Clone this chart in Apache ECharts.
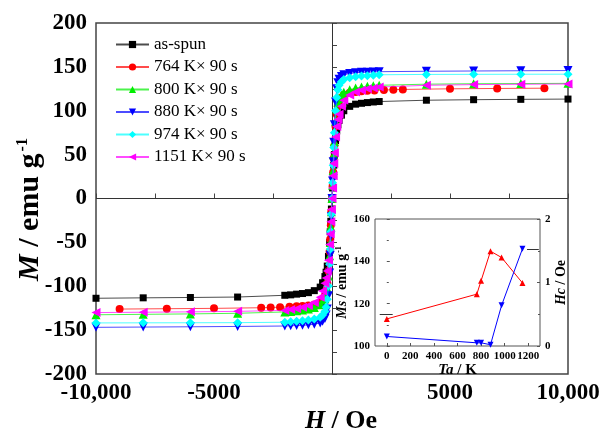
<!DOCTYPE html>
<html><head><meta charset="utf-8">
<script src="https://cdn.jsdelivr.net/npm/echarts@6/dist/echarts.min.js"></script>
<style>html,body{margin:0;padding:0;background:#fff}#c{width:605px;height:429px}</style>
</head><body><div id="c"></div>
<script>
// ---- main chart data ----
const seriesNames = ['as-spun', '764 K\u00d7 90 s', '800 K\u00d7 90 s', '880 K\u00d7 90 s', '974 K\u00d7 90 s', '1151 K\u00d7 90 s'];
const fieldH = [-10000,-8000,-6000,-4000,-2000,-1750,-1500,-1250,-1000,-750,-500,-400,-300,-250,-200,-150,-100,-75,-50,-25,0,25,50,75,100,150,200,250,300,400,500,750,1000,1250,1500,1750,2000,4000,6000,8000,10000];
const fieldHRed = [-9000,-7000,-5000,-3000,-2600,-2200,-1800,-1500,-1250,-1000,-750,-500,-400,-300,-250,-200,-150,-100,-75,-50,-25,0,25,50,75,100,150,200,250,300,400,500,750,1000,1250,1500,1800,2200,2600,3000,5000,7000,9000];
const mAsSpun = [-113.7,-113.2,-112.8,-112.3,-110.3,-109.8,-109.0,-108.3,-107.3,-105.0,-101.0,-96.0,-89.0,-84.0,-77.0,-66.0,-50.0,-38.0,-26.0,-12.0,0,12,26,38,50,66,77,84,89,95,100,105,107.5,108.5,109.3,110.0,110.5,112.0,112.6,113.0,113.3];
const m764 = [-126.0,-125.6,-125.2,-124.5,-124.2,-123.8,-123.4,-122.9,-122.4,-121.8,-120.8,-118.5,-115.5,-110.5,-105.5,-96.5,-82.5,-60.5,-46.5,-30.5,-14.5,0,14,30,46,60,82,96,105,110,115,118,120.5,121.5,122.2,122.7,123.2,123.6,124.0,124.3,125.0,125.4,125.7];
const m800 = [-132.5,-132.0,-131.5,-130.8,-129.3,-128.7,-128.0,-127.2,-126.0,-124.2,-121.2,-118.2,-114.2,-110.2,-102.2,-88.2,-65.2,-50.2,-32.2,-15.2,0,15,32,50,65,88,102,110,114,118,121,124,125.8,127,127.8,128.5,129,130.3,130.8,131,131.2];
const m880 = [-146.8,-146.5,-146.2,-145.8,-145.3,-145.0,-144.8,-144.5,-144.0,-143.2,-141.8,-139.8,-136.8,-132.8,-125.8,-110.8,-84.8,-64.8,-42.8,-20.8,0,20,42,64,84,110,125,132,136,139,141,142.5,143.3,143.8,144,144.2,144.5,145,145.3,145.6,145.8];
const m974 = [-141.8,-141.7,-141.6,-141.5,-141.0,-140.5,-140.0,-139.3,-138.5,-137.3,-135.3,-132.8,-128.8,-123.8,-114.8,-99.8,-74.8,-57.8,-37.8,-17.8,0,18,38,58,75,100,115,124,129,133,135.5,137.5,138.8,139.5,140,140.5,141,141.4,141.5,141.6,141.7];
const m1151 = [-130.0,-129.6,-129.2,-128.6,-127.5,-126.5,-125.5,-124.0,-122.0,-118.5,-112.5,-105.5,-96.5,-90.5,-82.5,-70.5,-52.5,-40.5,-26.5,-12.5,0,12,26,40,52,70,82,90,96,105,112,118,121.5,123.5,125,126,127,129,129.8,130.2,130.5];
const xTickLabels = {'-10000':'-10,000','-5000':'-5000','0':'','5000':'5000','10000':'10,000'};

// ---- inset data ----
const annealT = [0, 764, 800, 880, 974, 1151];
const msValues = [112.8, 124.5, 130.8, 144.8, 141.8, 129.8];
const hcValues = [0.15, 0.05, 0.05, 0.02, 0.64, 1.53];
const insetTicksX = [0, 200, 400, 600, 800, 1000, 1200];
const arrowMs = [[50, 115], [-60, 115]];
const arrowHc = [[1190, 1.53], [1290, 1.53]];

const SERIF = "'Liberation Serif','Times New Roman',serif";
const colors = ['#000000', '#ff0000', '#00ee00', '#0000ff', '#00ffff', '#ff00ff'];
const symbols = ['rect', 'circle', 'triangle', 'triangle', 'diamond', 'triangle'];
const rotates = [0, 0, 0, 180, 0, 90];
const sizes = [7, 8, 9, 9, 9, 9];
const mainData = [
  [fieldH, mAsSpun], [fieldHRed, m764], [fieldH, m800], [fieldH, m880], [fieldH, m974], [fieldH, m1151]
];

const series = mainData.map((d, i) => ({
  name: seriesNames[i], type: 'line', xAxisIndex: 0, yAxisIndex: 0,
  data: d[0].map((h, k) => [h, d[1][k]]),
  symbol: symbols[i], symbolRotate: rotates[i], symbolSize: sizes[i],
  itemStyle: {color: colors[i]},
  lineStyle: {color: colors[i], width: 1, opacity: 0.7},
  z: 3 + i, animation: false
}));
series[0].markLine = {
  silent: true, symbol: ['none', 'none'], label: {show: false},
  lineStyle: {color: '#333', width: 1, type: 'solid'},
  data: [{xAxis: 0}, {yAxis: 0}], z: 1
};
series.push({
  type: 'line', xAxisIndex: 1, yAxisIndex: 1,
  data: annealT.map((t, k) => [t, msValues[k]]),
  symbol: 'triangle', symbolSize: 6, itemStyle: {color: '#ff0000'},
  lineStyle: {color: '#ff0000', width: 1}, animation: false,
  markLine: {silent: true, symbol: ['none', 'arrow'], symbolSize: [0, 6], label: {show: false},
    lineStyle: {color: '#333', width: 1, type: 'solid'},
    data: [[{coord: arrowMs[0]}, {coord: arrowMs[1]}]]}
});
series.push({
  type: 'line', xAxisIndex: 1, yAxisIndex: 2,
  data: annealT.map((t, k) => [t, hcValues[k]]),
  symbol: 'triangle', symbolRotate: 180, symbolSize: 6, itemStyle: {color: '#0000ff'},
  lineStyle: {color: '#0000ff', width: 1}, animation: false,
  markLine: {silent: true, symbol: ['none', 'arrow'], symbolSize: [0, 6], label: {show: false},
    lineStyle: {color: '#333', width: 1, type: 'solid'},
    data: [[{coord: arrowHc[0]}, {coord: arrowHc[1]}]]}
});

const mainLabel = {fontFamily: SERIF, fontWeight: 'bold', fontSize: 23, color: '#000'};
const insetLabel = {fontFamily: SERIF, fontWeight: 'bold', fontSize: 11, color: '#000'};

const chart = echarts.init(document.getElementById('c'), null, {renderer: 'canvas'});
chart.setOption({
  animation: false,
  textStyle: {fontFamily: SERIF},
  grid: [
    {left: 96, right: 37, top: 23, bottom: 55, outerBoundsMode: 'none', containLabel: false,
     show: true, borderColor: '#444', borderWidth: 1.5, backgroundColor: 'transparent'},
    {left: 375, right: 65, top: 219, bottom: 83, outerBoundsMode: 'none', containLabel: false,
     show: true, borderColor: '#555', borderWidth: 1, backgroundColor: '#fff'}
  ],
  legend: {
    orient: 'vertical', left: 110, top: 31, itemWidth: 33, itemHeight: 9, itemGap: 5.5,
    data: seriesNames,
    textStyle: {fontFamily: SERIF, fontSize: 17, color: '#000'}
  },
  xAxis: [
    {type: 'value', gridIndex: 0, min: -10000, max: 10000, interval: 5000,
     axisLine: {show: false}, splitLine: {show: false},
     axisTick: {inside: true, length: 5, lineStyle: {color: '#444'}},
     minorTick: {show: true, splitNumber: 2, length: 5, lineStyle: {color: '#444'}},
     axisLabel: Object.assign({margin: 8, formatter: v => xTickLabels[String(v)] ?? String(v)}, mainLabel),
     name: '{it|H} / Oe', nameLocation: 'middle', nameGap: 34, nameMoveOverlap: false,
     nameTextStyle: {fontFamily: SERIF, fontWeight: 'bold', fontSize: 26, color: '#000', padding: [0, 0, 0, 18],
       rich: {it: {fontFamily: SERIF, fontWeight: 'bold', fontStyle: 'italic', fontSize: 26, color: '#000'}}}},
    {type: 'value', gridIndex: 1, min: -100, max: 1300,
     axisLine: {show: false}, splitLine: {show: false},
     axisTick: {inside: true, length: 3, customValues: insetTicksX, lineStyle: {color: '#555'}},
     axisLabel: Object.assign({margin: 5, customValues: insetTicksX, formatter: v => String(v)}, insetLabel),
     name: '{it|Ta} / K', nameLocation: 'middle', nameGap: 14,
     nameTextStyle: {fontFamily: SERIF, fontWeight: 'bold', fontSize: 15, color: '#000',
       rich: {it: {fontFamily: SERIF, fontWeight: 'bold', fontStyle: 'italic', fontSize: 15, color: '#000'}}}}
  ],
  yAxis: [
    {type: 'value', gridIndex: 0, min: -200, max: 200, interval: 50,
     axisLine: {show: false}, splitLine: {show: false},
     axisTick: {inside: true, length: 5, lineStyle: {color: '#444'}},
     minorTick: {show: true, splitNumber: 2, length: 5, lineStyle: {color: '#444'}},
     axisLabel: Object.assign({margin: 9}, mainLabel),
     name: '{it|M} / emu g{sup|-1}', nameLocation: 'middle', nameGap: 50, nameRotate: 90, nameMoveOverlap: false,
     nameTextStyle: {fontFamily: SERIF, fontWeight: 'bold', fontSize: 30, color: '#000', padding: [0, 22, 0, 0],
       rich: {it: {fontFamily: SERIF, fontWeight: 'bold', fontStyle: 'italic', fontSize: 30, color: '#000'},
              sup: {fontFamily: SERIF, fontWeight: 'bold', fontSize: 16, color: '#000', verticalAlign: 'top', padding: [0, 0, 15, 2]}}}},
    {type: 'value', gridIndex: 1, min: 100, max: 160, interval: 20, position: 'left',
     axisLine: {show: false}, splitLine: {show: false},
     axisTick: {inside: true, length: 3, lineStyle: {color: '#555'}},
     minorTick: {show: true, splitNumber: 2, length: 2, lineStyle: {color: '#555'}},
     axisLabel: Object.assign({margin: 5}, insetLabel),
     name: '{it|Ms} / emu g{sup|-1}', nameLocation: 'middle', nameGap: 19, nameRotate: 90,
     nameTextStyle: {fontFamily: SERIF, fontWeight: 'bold', fontSize: 14, color: '#000',
       rich: {it: {fontFamily: SERIF, fontWeight: 'bold', fontStyle: 'italic', fontSize: 14, color: '#000'},
              sup: {fontFamily: SERIF, fontWeight: 'bold', fontSize: 8, color: '#000', verticalAlign: 'top', padding: [0, 0, 7, 1]}}}},
    {type: 'value', gridIndex: 1, min: 0, max: 2, interval: 1, position: 'right',
     axisLine: {show: false}, splitLine: {show: false},
     axisTick: {inside: true, length: 3, lineStyle: {color: '#555'}},
     minorTick: {show: true, splitNumber: 2, length: 2, lineStyle: {color: '#555'}},
     axisLabel: Object.assign({margin: 5}, insetLabel),
     name: '{it|Hc} / Oe', nameLocation: 'middle', nameGap: 12, nameRotate: 90,
     nameTextStyle: {fontFamily: SERIF, fontWeight: 'bold', fontSize: 14, color: '#000',
       rich: {it: {fontFamily: SERIF, fontWeight: 'bold', fontStyle: 'italic', fontSize: 14, color: '#000'}}}}
  ],
  series: series
});
</script></body></html>
